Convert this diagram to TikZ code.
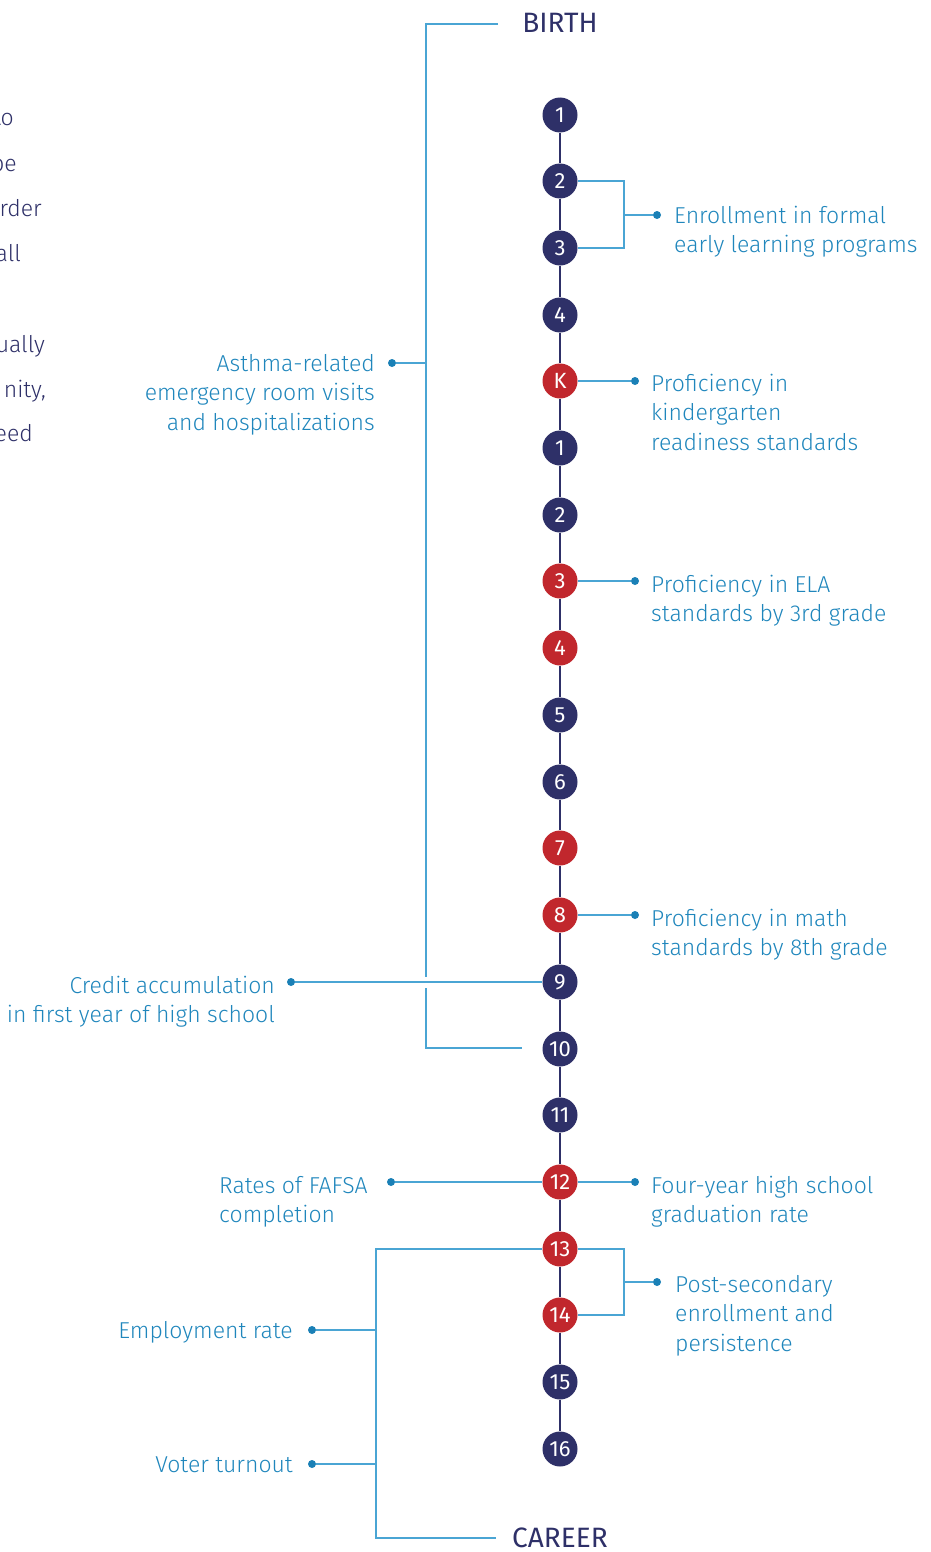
\documentclass[tikz,border=0pt]{standalone}
\usepackage{fontspec}
\setmainfont{Fira Sans}
\newfontfamily\lightf{Fira Sans Light}
\usetikzlibrary{calc}
\definecolor{navy}{HTML}{2E3068}
\definecolor{redc}{HTML}{C1272D}
\definecolor{bluet}{HTML}{1F86BC}
\definecolor{linec}{HTML}{4AA5D4}
\definecolor{dotc}{HTML}{1A80B6}
\tikzset{
  num/.style={circle, fill=navy, text=white, minimum size=35pt, inner sep=0pt, font=\fontsize{22}{22}\selectfont},
  numr/.style={num, fill=redc},
  lab/.style={text=bluet, inner sep=0pt, font=\lightf\fontsize{23}{29.5}\selectfont},
  cut/.style={text=navy, inner sep=0pt, font=\lightf\fontsize{23}{29.5}\selectfont, anchor=base east},
  ttl/.style={text=navy, inner sep=0pt, font=\fontsize{28}{28}\selectfont},
  dot/.style={circle, fill=dotc, minimum size=8pt, inner sep=0pt},
  bl/.style={draw=linec, line width=1.3pt},
  spine/.style={draw=navy, line width=1.6pt}
}
\begin{document}
\begin{tikzpicture}[x=1pt,y=-1pt]
\useasboundingbox (0,0) rectangle (930,1552);
\clip (0,0) rectangle (930,1552);
% cut-off paragraph on the left
\node[cut] (p1) at (14,126) {to};
\node[cut] (p2) at (17,171) {be};
\node[cut] (p3) at (42,216) {rder};
\node[cut] (p4) at (21,261) {all};
\node[cut] (p5) at (45,352) {ually};
\node[cut] (p6) at (46,397) {nity,};
\node[cut] (p7) at (33,441) {eed};
% titles
\node[ttl] (birth) at (560,23) {BIRTH};
\node[ttl] (career) at (560,1538) {CAREER};
% circles
\node[num]  (c1)  at (560,115)  {1};
\node[num]  (c2)  at (560,181)  {2};
\node[num]  (c3)  at (560,248)  {3};
\node[num]  (c4)  at (560,315)  {4};
\node[numr] (cK)  at (560,381)  {K};
\node[num]  (g1)  at (560,448)  {1};
\node[num]  (g2)  at (560,515)  {2};
\node[numr] (g3)  at (560,581)  {3};
\node[numr] (g4)  at (560,648)  {4};
\node[num]  (g5)  at (560,715)  {5};
\node[num]  (g6)  at (560,782)  {6};
\node[numr] (g7)  at (560,848)  {7};
\node[numr] (g8)  at (560,915)  {8};
\node[num]  (g9)  at (560,982)  {9};
\node[num]  (g10) at (560,1049) {10};
\node[num]  (g11) at (560,1115) {11};
\node[numr] (g12) at (560,1182) {12};
\node[numr] (g13) at (560,1249) {13};
\node[numr] (g14) at (560,1315) {14};
\node[num]  (g15) at (560,1382) {15};
\node[num]  (g16) at (560,1449) {16};
% spine
\foreach \a/\b in {c1/c2,c2/c3,c3/c4,c4/cK,cK/g1,g1/g2,g2/g3,g3/g4,g4/g5,g5/g6,g6/g7,g7/g8,g8/g9,g9/g10,g10/g11,g11/g12,g12/g13,g13/g14,g14/g15,g15/g16}
  \draw[spine] (\a) -- (\b);
% right labels (base anchor = last line)
\node[lab, anchor=base west, align=left] (lEnr) at (674,252.5) {Enrollment in formal\\early learning programs};
\node[lab, anchor=base west, align=left] (lKin) at (651,450) {Proficiency in\\kindergarten\\readiness standards};
\node[lab, anchor=base west, align=left] (lEla) at (651,621.5) {Proficiency in ELA\\standards by 3rd grade};
\node[lab, anchor=base west, align=left] (lMat) at (651,955.5) {Proficiency in math\\standards by 8th grade};
\node[lab, anchor=base west, align=left] (lGrad) at (651,1222.5) {Four-year high school\\graduation rate};
\node[lab, anchor=base west, align=left] (lPost) at (675,1351) {Post-secondary\\enrollment and\\persistence};
% left labels
\node[lab, anchor=base east, align=right] (lAst) at (375,430) {Asthma-related\\emergency room visits\\and hospitalizations};
\node[lab, anchor=base east, align=right] (lCred) at (275,1022.5) {Credit accumulation\\in first year of high school};
\node[lab, anchor=base west, align=left] (lFaf) at (219,1222.5) {Rates of FAFSA\\completion};
\node[lab, anchor=base east] (lEmp) at (293,1338) {Employment rate};
\node[lab, anchor=base east] (lVot) at (293,1472) {Voter turnout};
% dots
\node[dot] (dEnr) at (657,215) {};
\node[dot] (dKin) at (635,381) {};
\node[dot] (dEla) at (635,581) {};
\node[dot] (dMat) at (635,915) {};
\node[dot] (dGrad) at (635,1182) {};
\node[dot] (dPost) at (657,1282) {};
\node[dot] (dAst) at (392,363) {};
\node[dot] (dCred) at (291,982) {};
\node[dot] (dFaf) at (391,1182) {};
\node[dot] (dEmp) at (312,1330) {};
\node[dot] (dVot) at (312,1464) {};
% bracket coordinates
\coordinate (bt) at (498,24);
\coordinate (gA) at (426,977);
\coordinate (gB) at (426,988);
\coordinate (bb) at (522,1048);
\coordinate (j1) at (624,215);
\coordinate (j2) at (624,1282);
\coordinate (k2) at (376,1538);
\coordinate (ce) at (496,1538);
% right connectors
\draw[bl] (c2.east) -| (j1) |- (c3.east);
\draw[bl] (j1) -- (dEnr);
\draw[bl] (cK) -- (dKin);
\draw[bl] (g3) -- (dEla);
\draw[bl] (g8) -- (dMat);
\draw[bl] (g12) -- (dGrad);
\draw[bl] (g13.east) -| (j2) |- (g14.east);
\draw[bl] (j2) -- (dPost);
% left connectors
\draw[bl] (bt) -| (gA);
\draw[bl] (gB) |- (bb);
\draw[bl] (dAst) -- (dAst -| gA);
\draw[bl] (dCred) -- (g9);
\draw[bl] (dFaf) -- (g12);
\draw[bl] (g13.west) -| (k2) -- (ce);
\draw[bl] (dEmp) -- (dEmp -| k2);
\draw[bl] (dVot) -- (dVot -| k2);
\end{tikzpicture}
\end{document}
